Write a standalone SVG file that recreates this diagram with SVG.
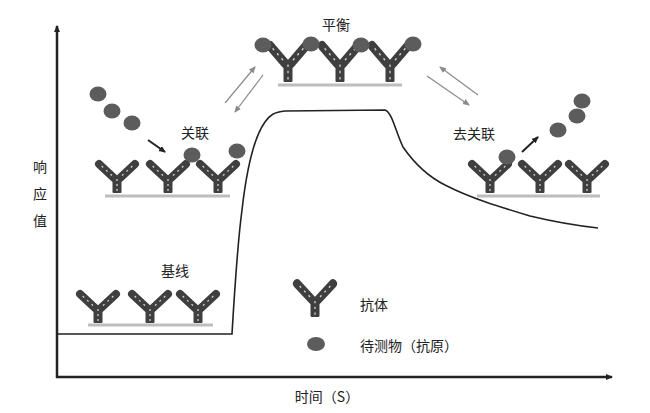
<svg xmlns="http://www.w3.org/2000/svg" xmlns:xlink="http://www.w3.org/1999/xlink" width="650" height="413" viewBox="0 0 650 413">
<style>
text{font-family:"Noto Sans CJK SC","Noto Sans",sans-serif;font-size:14px;fill:#222}
.mid{text-anchor:middle}
.sph{fill:#5c5c5c}
.surf{stroke:#bdbdbd;stroke-width:3}
.axis{stroke:#222;stroke-width:2.5;fill:none}
.curve{stroke:#222;stroke-width:1.6;fill:none}
.garrow{stroke:#8a8a8a;stroke-width:1.2;fill:none}
.barrow{stroke:#222;stroke-width:2;fill:none}
</style>
<defs>
<g id="ab">
<path d="M-3,-15 L-18,-29 M3,-15 L18,-29" stroke="#3f3f3f" stroke-width="8" stroke-linecap="round" fill="none"/>
<path d="M-5,-17.5 L-16,-27.5 M5,-17.5 L16,-27.5" stroke="#d0d0d0" stroke-width="1.3" stroke-dasharray="2 4" fill="none"/>
<rect x="-4.5" y="-17" width="9" height="17" rx="1" fill="#3f3f3f"/>
<path d="M0,-14 V-2" stroke="#d0d0d0" stroke-width="1.3" stroke-dasharray="2 3"/>
</g>
<marker id="ah" markerWidth="8" markerHeight="8" refX="6" refY="4" orient="auto" markerUnits="userSpaceOnUse">
<path d="M0,1 L7,4 L0,7 Z" fill="#222"/>
</marker>
<marker id="ahg" markerWidth="8" markerHeight="8" refX="6" refY="4" orient="auto" markerUnits="userSpaceOnUse">
<path d="M0,1 L7,4 L0,7 Z" fill="#8a8a8a"/>
</marker>
</defs>
<rect width="650" height="413" fill="#fff"/>

<g id="axes">
<path class="axis" d="M57,378 V26" marker-end="url(#ah)"/>
<path class="axis" d="M56,377 H612" marker-end="url(#ah)"/>
<text x="40" y="172" class="mid">响</text>
<text x="40" y="199" class="mid">应</text>
<text x="40" y="226" class="mid">值</text>
<text x="327" y="402" class="mid">时间（S）</text>
</g>

<g id="connectors">
<path class="curve" d="M57,334 H232 C234,300 238,240 242,210 C246,175 252,140 265,122 C270,115 274,112 285,111 L385,110 C392,112 395,130 403,147 C412,160 425,175 445,185 C470,198 500,207 530,216 C555,222 580,226 598,228"/>
<path class="garrow" d="M225,103 L255,67" marker-end="url(#ahg)"/>
<path class="garrow" d="M263,75 L235,112" marker-end="url(#ahg)"/>
<path class="garrow" d="M478,95 L440,67" marker-end="url(#ahg)"/>
<path class="garrow" d="M427,76 L469,105" marker-end="url(#ahg)"/>
<path class="barrow" d="M148,140 L165,152" marker-end="url(#ah)"/>
<path class="barrow" d="M522,152 L538,137" marker-end="url(#ah)"/>
</g>

<g id="baseline">
<line class="surf" x1="88" y1="325" x2="213" y2="325"/>
<use xlink:href="#ab" href="#ab" x="98" y="323"/>
<use xlink:href="#ab" href="#ab" x="150" y="323"/>
<use xlink:href="#ab" href="#ab" x="198" y="323"/>
<text x="175" y="276" class="mid">基线</text>
</g>

<g id="association">
<line class="surf" x1="105" y1="196" x2="230" y2="196"/>
<use xlink:href="#ab" href="#ab" x="117" y="193"/>
<use xlink:href="#ab" href="#ab" x="168" y="193"/>
<use xlink:href="#ab" href="#ab" x="218" y="193"/>
<ellipse class="sph" cx="98" cy="94" rx="8.5" ry="7.5"/>
<ellipse class="sph" cx="112" cy="111" rx="8.5" ry="7.5"/>
<ellipse class="sph" cx="132" cy="123" rx="8.5" ry="7.5"/>
<ellipse class="sph" cx="192" cy="155" rx="8.5" ry="7.5"/>
<ellipse class="sph" cx="237" cy="151" rx="8.5" ry="7.5"/>
<text x="195" y="138" class="mid">关联</text>
</g>

<g id="equilibrium">
<line class="surf" x1="278" y1="85" x2="402" y2="85"/>
<g transform="translate(288,82) scale(1,1.25)"><use xlink:href="#ab" href="#ab"/></g>
<g transform="translate(340,82) scale(1,1.25)"><use xlink:href="#ab" href="#ab"/></g>
<g transform="translate(390,82) scale(1,1.25)"><use xlink:href="#ab" href="#ab"/></g>
<ellipse class="sph" cx="263" cy="45" rx="8.5" ry="7.5"/>
<ellipse class="sph" cx="311" cy="44" rx="8.5" ry="7.5"/>
<ellipse class="sph" cx="361" cy="45" rx="8.5" ry="7.5"/>
<ellipse class="sph" cx="413" cy="44" rx="8.5" ry="7.5"/>
<text x="336" y="30" class="mid">平衡</text>
</g>

<g id="dissociation">
<line class="surf" x1="477" y1="196" x2="600" y2="196"/>
<use xlink:href="#ab" href="#ab" x="490" y="193"/>
<use xlink:href="#ab" href="#ab" x="540" y="193"/>
<use xlink:href="#ab" href="#ab" x="587" y="193"/>
<ellipse class="sph" cx="507" cy="157" rx="8.5" ry="7.5"/>
<ellipse class="sph" cx="558" cy="130" rx="8.5" ry="7.5"/>
<ellipse class="sph" cx="577" cy="116" rx="8.5" ry="7.5"/>
<ellipse class="sph" cx="582" cy="101" rx="8.5" ry="7.5"/>
<text x="474" y="139" class="mid">去关联</text>
</g>

<g id="legend">
<g transform="translate(315,317) scale(1,1.15)"><use xlink:href="#ab" href="#ab"/></g>
<text x="360" y="310">抗体</text>
<ellipse class="sph" cx="316" cy="344" rx="9" ry="7"/>
<text x="360" y="351">待测物（抗原）</text>
</g>
</svg>
